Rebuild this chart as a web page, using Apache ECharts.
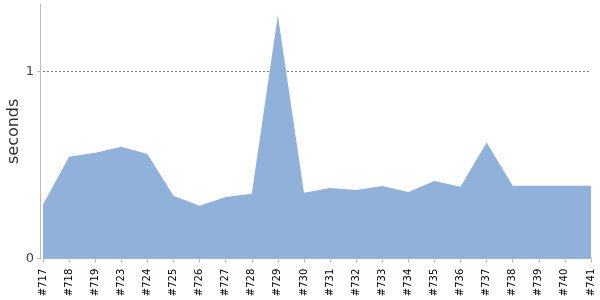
<!DOCTYPE html>
<html><head><meta charset="utf-8">
<script src="https://cdn.jsdelivr.net/npm/echarts@6/dist/echarts.min.js"></script>
<style>html,body{margin:0;padding:0;background:#fff}#c{width:600px;height:300px}</style>
</head><body><div id="c"></div>
<script>
const categories = ['#717','#718','#719','#723','#724','#725','#726','#727','#728','#729','#730','#731','#732','#733','#734','#735','#736','#737','#738','#739','#740','#741'];
const seconds = [0.29,0.544,0.566,0.598,0.559,0.336,0.283,0.329,0.347,1.30,0.352,0.377,0.367,0.388,0.356,0.415,0.384,0.621,0.39,0.39,0.39,0.39];
const yMax = 1.36;

const chart = echarts.init(document.getElementById('c'), null, {renderer:'canvas'});
chart.setOption({
  animation:false,
  backgroundColor:'#fff',
  grid:{left:43,right:9,top:4,bottom:41.3,containLabel:false,outerBoundsMode:'none'},
  xAxis:{
    type:'category', data:categories, boundaryGap:false, offset:4,
    axisLine:{lineStyle:{color:'#bbb',width:1}},
    axisTick:{show:true,alignWithLabel:true,length:4,lineStyle:{color:'#bbb'}},
    axisLabel:{rotate:90,interval:0,color:'#000',fontFamily:'DejaVu Sans',fontSize:10,margin:6}
  },
  yAxis:{
    type:'value', min:0, max:yMax, interval:1, offset:3,
    name:'seconds', nameLocation:'middle', nameGap:18, nameMoveOverlap:false,
    nameTextStyle:{color:'#333',fontFamily:'DejaVu Sans',fontSize:16},
    axisLine:{show:true,lineStyle:{color:'#bbb',width:1}},
    axisTick:{show:true,length:3,lineStyle:{color:'#bbb'}},
    axisLabel:{color:'#444',fontFamily:'DejaVu Sans',fontSize:13,margin:6,showMaxLabel:false,
      formatter:v=>Number.isInteger(v)?String(v):''},
    splitLine:{show:true,showMinLine:false,showMaxLine:false,lineStyle:{color:'#777',type:[2,2],width:1}}
  },
  series:[{
    type:'line', data:seconds, symbol:'none', smooth:false,
    lineStyle:{width:0},
    areaStyle:{color:'#8fb1da',opacity:1}
  }]
});
</script></body></html>
